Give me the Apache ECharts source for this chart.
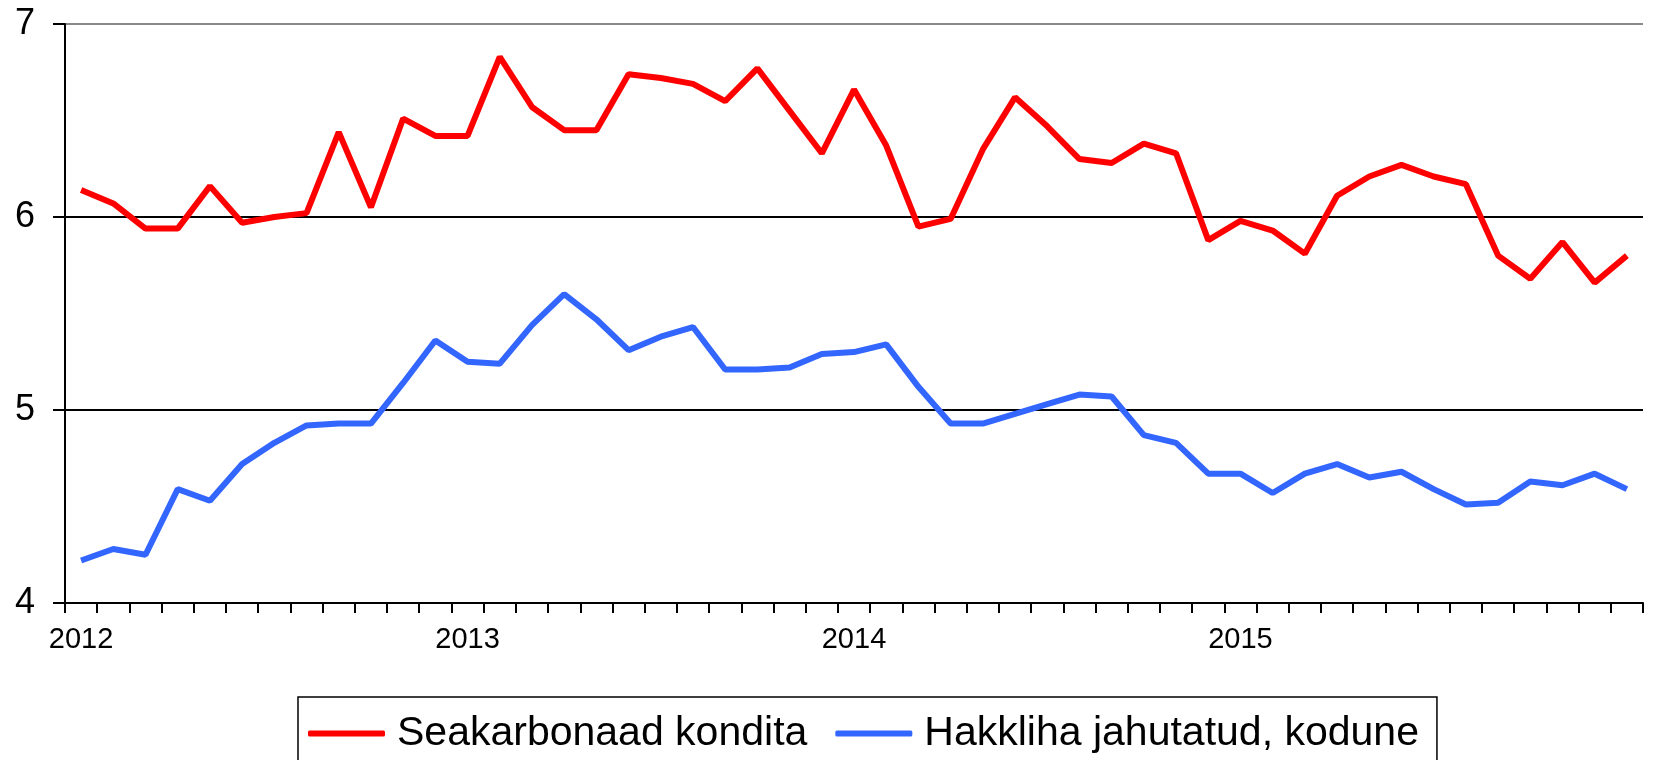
<!DOCTYPE html>
<html>
<head>
<meta charset="utf-8">
<title>Seakarbonaad ja hakkliha</title>
<script src="https://cdn.jsdelivr.net/npm/echarts@6/dist/echarts.min.js"></script>
<style>
  html, body { margin: 0; padding: 0; background: #fff; }
  #main { width: 1662px; height: 760px; }
</style>
</head>
<body>
<div id="main"></div>
<script>
// monthly prices, Jan 2012 .. Jan 2016
const yearLabels = ['2012', '2013', '2014', '2015'];
const seakarbonaad = [
    6.14, 6.07, 5.94, 5.94, 6.16, 5.97, 6.00, 6.02, 6.44, 6.05, 6.51, 6.42,
    6.42, 6.83, 6.57, 6.45, 6.45, 6.74, 6.72, 6.69, 6.60, 6.77, 6.55, 6.33,
    6.66, 6.37, 5.95, 5.99, 6.35, 6.62, 6.47, 6.30, 6.28, 6.38, 6.33, 5.88,
    5.98, 5.93, 5.81, 6.11, 6.21, 6.27, 6.21, 6.17, 5.80, 5.68, 5.87, 5.66,
    5.80
];
const hakkliha = [
    4.22, 4.28, 4.25, 4.59, 4.53, 4.72, 4.83, 4.92, 4.93, 4.93, 5.14, 5.36,
    5.25, 5.24, 5.44, 5.60, 5.47, 5.31, 5.38, 5.43, 5.21, 5.21, 5.22, 5.29,
    5.30, 5.34, 5.12, 4.93, 4.93, 4.98, 5.03, 5.08, 5.07, 4.87, 4.83, 4.67,
    4.67, 4.57, 4.67, 4.72, 4.65, 4.68, 4.59, 4.51, 4.52, 4.63, 4.61, 4.67,
    4.59
];

const categories = [];
for (let i = 0; i < seakarbonaad.length; i++) {
    const y = 2012 + Math.floor(i / 12);
    const m = (i % 12) + 1;
    categories.push(y + '-' + (m < 10 ? '0' + m : m));
}

const font = "'Liberation Sans', Arial, sans-serif";
let myChart = echarts.init(document.getElementById('main'));
myChart.setOption({
    animation: false,
    backgroundColor: '#fff',
    grid: { left: 65, right: 19, top: 24, bottom: 157 },
    legend: {
        left: 298,
        top: 697,
        padding: [16, 18, 40, 10],
        borderColor: '#000',
        borderWidth: 1.5,
        icon: 'roundRect',
        itemWidth: 77,
        itemHeight: 6,
        itemGap: 28,
        textStyle: { fontFamily: font, fontSize: 41, color: '#000', padding: [0, 0, 0, 7] },
        data: ['Seakarbonaad kondita', 'Hakkliha jahutatud, kodune']
    },
    xAxis: {
        type: 'category',
        data: categories,
        boundaryGap: true,
        axisLine: { show: true, lineStyle: { color: '#000', width: 2 } },
        axisTick: { show: true, interval: 0, length: 10, lineStyle: { color: '#000', width: 2 } },
        axisLabel: {
            interval: 0,
            margin: 22,
            fontFamily: font,
            fontSize: 29,
            color: '#000',
            formatter: function (value, index) {
                return index % 12 === 0 ? (yearLabels[index / 12] || '') : '';
            }
        },
        splitLine: { show: false }
    },
    yAxis: {
        type: 'value',
        min: 4,
        max: 7,
        interval: 1,
        axisLine: { show: true, lineStyle: { color: '#000', width: 2 } },
        axisTick: { show: true, length: 12, lineStyle: { color: '#000', width: 2 } },
        axisLabel: { margin: 30, fontFamily: font, fontSize: 36, color: '#000' },
        splitLine: { show: true, lineStyle: { color: ['#000', '#000', '#000', '#888'], width: 2 } }
    },
    series: [{
        name: 'Seakarbonaad kondita',
        type: 'line',
        data: seakarbonaad,
        symbol: 'none',
        color: '#ff0000',
        lineStyle: { color: '#ff0000', width: 6 }
    }, {
        name: 'Hakkliha jahutatud, kodune',
        type: 'line',
        data: hakkliha,
        symbol: 'none',
        color: '#3366ff',
        lineStyle: { color: '#3366ff', width: 6 }
    }]
});
</script>
</body>
</html>
